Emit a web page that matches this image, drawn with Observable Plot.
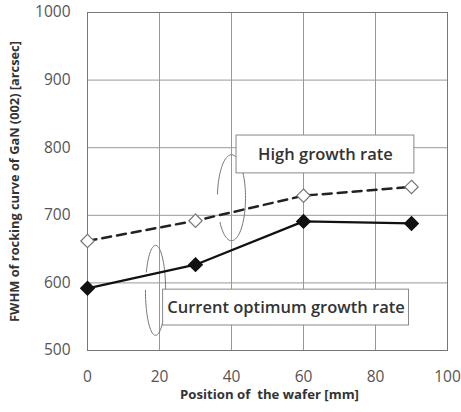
<!DOCTYPE html>
<html><head><meta charset="utf-8">
<script src="https://cdn.jsdelivr.net/npm/d3@7"></script>
<script src="https://cdn.jsdelivr.net/npm/@observablehq/plot@0.6"></script>
<style>body{margin:0;background:#fff;} svg{display:block;}</style>
</head><body><div id="chart"></div>
<script>
const positions = [0, 30, 60, 90];
const highRate = [662, 692, 729, 742];
const optimumRate = [592, 627, 691, 688];
const xTicks = [0, 20, 40, 60, 80, 100];
const yTicks = [500, 600, 700, 800, 900, 1000];
const labelHigh = "High growth rate";
const labelOpt = "Current optimum growth rate";
const xTitle = "Position of  the wafer [mm]";
const yTitle = "FWHM of rocking curve of GaN (002) [arcsec]";

const high = positions.map((x, i) => ({x, y: highRate[i]}));
const opt = positions.map((x, i) => ({x, y: optimumRate[i]}));

// annotation boxes (data coords)
const boxes = [
  {x1: 41.4, x2: 90.8, y1: 762, y2: 818, text: labelHigh},
  {x1: 21, x2: 89.3, y1: 537, y2: 590, text: labelOpt}
];
// open ellipse brackets
function arc(cx, cy, rx, ry, t0, t1, id) {
  const pts = [];
  for (let t = t0; t <= t1; t += 4) {
    const r = t * Math.PI / 180;
    pts.push({x: cx + rx * Math.cos(r), y: cy + ry * Math.sin(r), id});
  }
  return pts;
}
const ellipses = [
  ...arc(40, 726, 3.9, 63.6, 215, 537, "a"),
  ...arc(18.9, 589, 2.8, 66.6, 180, 518, "b")
];

const font = "'Open Sans', Lato, sans-serif";
const plot = Plot.plot({
  width: 461, height: 412,
  marginLeft: 87, marginRight: 14, marginTop: 12, marginBottom: 62,
  style: {fontFamily: font, background: "#fff"},
  x: {domain: [0, 100]},
  y: {domain: [500, 1000]},
  marks: [
    Plot.gridX(xTicks, {stroke: "#999", strokeOpacity: 1, strokeWidth: 1}),
    Plot.gridY(yTicks, {stroke: "#999", strokeOpacity: 1, strokeWidth: 1}),
    Plot.frame({stroke: "#777", strokeWidth: 1}),
    Plot.axisX({ticks: xTicks, tickFormat: d => String(d), tickSize: 0, tickPadding: 20, fontSize: 15.5, fill: "#555", label: null}),
    Plot.axisY({ticks: yTicks, tickFormat: d => String(d), tickSize: 0, tickPadding: 17, fontSize: 15.5, fill: "#555", label: null}),
    Plot.text([xTitle], {frameAnchor: "bottom", dy: 48, dx: 2, fontSize: 13.2, fontWeight: "bold", fill: "#333"}),
    Plot.text([yTitle], {frameAnchor: "left", textAnchor: "middle", dx: -73, rotate: -90, fontSize: 12.8, fontWeight: "bold", fill: "#333"}),
    Plot.line(ellipses, {x: "x", y: "y", z: "id", stroke: "#777", strokeWidth: 1, curve: "linear"}),
    Plot.line(high, {x: "x", y: "y", stroke: "#222", strokeWidth: 2.5, strokeDasharray: "9,6"}),
    Plot.line(opt, {x: "x", y: "y", stroke: "#111", strokeWidth: 2.2}),
    Plot.dot(high, {x: "x", y: "y", symbol: "diamond2", r: 6, fill: "#fff", stroke: "#777", strokeWidth: 1.2}),
    Plot.dot(opt, {x: "x", y: "y", symbol: "diamond2", r: 6, fill: "#111", stroke: "#111"}),
    Plot.rect(boxes, {x1: "x1", x2: "x2", y1: "y1", y2: "y2", fill: "#fff", stroke: "#888", strokeWidth: 1}),
    Plot.text(boxes, {x: d => (d.x1 + d.x2) / 2, y: d => (d.y1 + d.y2) / 2, text: "text", fontSize: 16.5, fontWeight: 600, fill: "#333"})
  ]
});
document.getElementById("chart").appendChild(plot);
</script></body></html>
